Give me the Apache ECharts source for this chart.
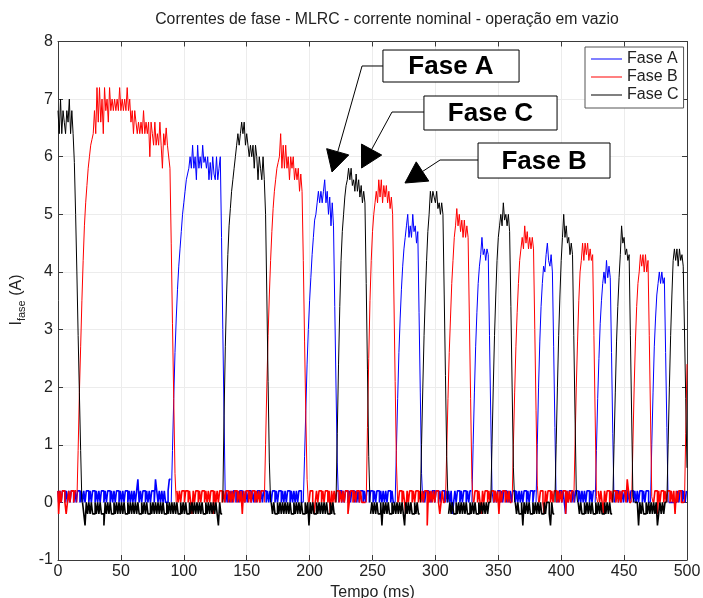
<!DOCTYPE html>
<html>
<head>
<meta charset="utf-8">
<title>Correntes de fase</title>
<script src="https://cdn.jsdelivr.net/npm/echarts@6/dist/echarts.min.js"></script>
<style>
html,body{margin:0;padding:0;background:#ffffff;}
#chart{width:703px;height:598px;}
</style>
</head>
<body>
<div id="chart"></div>
<script>
// ================= DATA =================
const titleText = 'Correntes de fase - MLRC - corrente nominal - operação em vazio';
const seriesNames = ['Fase A', 'Fase B', 'Fase C'];
const xAxisName = 'Tempo (ms)';
const xTickValues = [0, 50, 100, 150, 200, 250, 300, 350, 400, 450, 500];
const yTickValues = [-1, 0, 1, 2, 3, 4, 5, 6, 7, 8];

// Phase A (blue): conduction pulses, 1 ms samples starting at pulseStartA[i]
const pulseStartA = [90, 195, 268, 329, 380, 427, 471];
const pulseValuesA = [
  [0, 0.9, 1.8, 2.6, 3.2, 3.7, 4.1, 4.4, 4.7, 5.0, 5.2, 5.4, 5.6, 5.7, 5.8,
   6.0, 5.8, 6.2, 5.8, 6.0, 5.6, 6.2, 5.8, 6.0, 5.8, 6.2, 5.9, 6.0, 5.8, 6.0,
   5.6, 5.9, 5.6, 6.0, 5.7, 5.6, 6.0, 5.6, 5.8, 6.0, 4.6, 3.0, 1.5, 0],
  [0, 0.8, 1.6, 2.4, 3.0, 3.5, 3.9, 4.3, 4.6, 4.9, 5.0, 5.2, 5.4, 5.2, 5.4,
   5.2, 5.4, 5.6, 5.2, 5.4, 5.0, 5.3, 4.8, 5.2, 4.8, 3.4, 2.0, 0.7, 0],
  [0, 0.9, 1.8, 2.6, 3.2, 3.7, 4.1, 4.4, 4.6, 4.8, 5.0, 4.6, 4.8, 4.6, 5.0,
   4.7, 4.8, 4.5, 4.7, 3.3, 1.9, 0.5, 0],
  [0, 1.0, 1.9, 2.7, 3.3, 3.8, 4.1, 4.3, 4.6, 4.3, 4.4, 4.2, 4.4, 4.3, 2.9,
   1.5, 0.2, 0],
  [0, 1.0, 2.0, 2.8, 3.4, 3.8, 4.1, 4.0, 4.3, 4.5, 4.2, 4.1, 4.3, 4.0, 2.7,
   1.3, 0],
  [0, 0.9, 1.8, 2.5, 3.1, 3.5, 3.8, 4.0, 3.8, 4.2, 3.9, 4.1, 3.9, 2.6, 1.2, 0],
  [0, 1.0, 1.9, 2.7, 3.2, 3.6, 3.8, 4.0, 3.8, 4.0, 3.8, 3.9, 2.6, 1.3, 0]
];
// off-state ripple of phase A, one character per ms (0..500): 0=0, 1=0.2, 2=0.4, a=-0.2, b=-0.4
const noiseA = [
  '1010110101 0110101101 0101101011 0101011010 1101010110',
  '1010110101 0101201011 0101011021 0101010012 0000000000',
  '0000000000 0000000000 0000000000 0101101010 1101011010',
  '1011010101 1010110101 0110101101 0101101010 1011010110',
  '0000000000 0000000000 0010110101 1010110101 0110101101',
  '1010110101 0101101000 0000000000 0000000000 0101101011',
  '0110101101 0101a01011 0101101010 0000000000 0000001010',
  '1101011010 1011010101 0110101101 0000000000 0000000101',
  '1010a10110 1011010101 0110101000 0000000000 0010110101',
  '0110101101 0101101011 0000000000 0000000000 0001011010',
  '1'
];

// Phase B (red)
const pulseStartB = [15, 164, 245, 308, 361, 410, 456, 498];
const pulseValuesB = [
  [0, 0.9, 1.9, 2.7, 3.5, 4.2, 4.8, 5.2, 5.5, 5.8, 6.0, 6.2, 6.3, 6.4,
   6.8, 6.4, 7.2, 6.6, 7.2, 6.6, 7.0, 6.4, 7.2, 6.8,
   7.0, 6.6, 7.2, 6.8, 7.0, 6.8, 7.0, 6.8, 7.0, 6.8,
   7.2, 6.8, 7.0, 6.8, 7.0, 6.8, 7.2, 6.8, 7.0, 6.6,
   6.8, 6.4, 6.8, 6.6, 6.4, 6.6, 6.4, 6.6, 6.4, 6.8,
   6.4, 6.6, 6.4, 6.6, 6.0, 6.6, 6.4, 6.2, 6.6, 6.2,
   6.4, 6.2, 6.6, 6.2, 5.8, 6.4, 6.2, 6.5, 6.2, 6.2,
   5.8, 4.5, 3.1, 1.8, 0.5, 0],
  [0, 1.0, 2.0, 2.9, 3.6, 4.2, 4.7, 5.1, 5.4, 5.6, 5.8, 5.9, 6.0, 6.4, 5.8,
   6.2, 5.8, 6.2, 5.8, 6.0, 5.6, 6.0, 5.8, 6.0, 5.6, 5.8, 5.6, 5.8, 5.4, 5.7,
   5.4, 4.2, 2.8, 1.5, 0.4, 0],
  [0, 1.3, 2.5, 3.5, 4.2, 4.7, 5.0, 5.2, 5.4, 5.2, 5.6, 5.3, 5.6, 5.2, 5.5,
   5.3, 5.5, 5.2, 5.4, 5.1, 5.3, 5.0, 3.6, 2.1, 0.7, 0],
  [0, 0.9, 1.8, 2.6, 3.2, 3.8, 4.2, 4.6, 4.8, 5.1, 4.8, 5.0, 4.7, 4.9, 4.6,
   4.9, 4.6, 4.8, 4.6, 3.2, 1.8, 0.4, 0],
  [0, 1.0, 1.9, 2.7, 3.3, 3.8, 4.2, 4.4, 4.6, 4.4, 4.8, 4.5, 4.7, 4.4, 4.6,
   4.4, 4.6, 4.4, 3.0, 1.6, 0.3, 0],
  [0, 1.0, 2.0, 2.8, 3.5, 4.0, 4.2, 4.5, 4.2, 4.5, 4.3, 4.5, 4.2, 4.4, 4.2,
   4.3, 2.9, 1.5, 0.1, 0],
  [0, 1.0, 2.0, 2.8, 3.4, 3.8, 4.0, 4.3, 4.1, 4.3, 4.0, 4.3, 4.0, 4.2, 2.9,
   1.5, 0.1, 0],
  [0, 1.2, 2.4]
];
const noiseB = [
  '1a10110a01 0110100000 0000000000 0000000000 0000000000',
  '0000000000 0000000000 0000000000 0000000000 0000110101',
  '1011010a10 1101011010 1011a10101 1010110101 0110101a10',
  '1101011010 1011000000 0000000000 0000000000 0000000001',
  '0110a01011 0101101a10 1011010101 1a01101011 0100000000',
  '0000000000 0000000000 1011010a10 1101011010 1011b10101',
  '0110a01000 0000000000 0000000000 1011010a10 1101011010',
  '1a10110101 0000000000 0000000000 0010110a10 1101011010',
  '1011a10101 0000000000 0000000001 1010a10110 1011010101',
  '1102100000 0000000000 0001011a10 1101011010 1a10110000',
  '0'
];

// Phase C (black)
const pulseStartC = [0, 131, 221, 288, 344, 395, 441, 484];
const pulseValuesC = [
  [6.8, 6.4, 7.0, 6.4, 6.8, 6.6, 6.4, 6.8, 6.6, 7.0, 6.4, 6.8, 6.4, 5.9, 5.0,
   4.0, 2.9, 1.9, 0.9, 0],
  [0, 1.5, 2.7, 3.6, 4.3, 4.8, 5.1, 5.4, 5.6, 5.8, 6.0, 6.2, 6.4, 6.2, 6.4,
   6.6, 6.4, 6.6, 6.2, 6.4, 6.2, 6.0, 6.2, 6.0, 6.2, 5.8, 6.2, 6.0, 5.6, 6.0,
   5.8, 5.6, 6.0, 5.6, 5.0, 3.6, 2.1, 0.7, 0],
  [0, 1.2, 2.4, 3.4, 4.2, 4.7, 5.0, 5.3, 5.5, 5.6, 5.8, 5.6, 5.8, 5.5, 5.6,
   5.4, 5.7, 5.4, 5.6, 5.3, 5.5, 5.2, 5.4, 5.2, 3.8, 2.3, 0.8, 0],
  [0, 1.0, 2.0, 2.9, 3.6, 4.2, 4.7, 5.0, 5.4, 5.2, 5.4, 5.3, 5.2, 5.4, 5.1,
   5.2, 5.0, 5.2, 5.0, 3.6, 2.2, 0.8, 0],
  [0, 1.0, 2.0, 2.9, 3.6, 4.2, 4.6, 4.8, 5.0, 4.8, 5.2, 4.9, 5.0, 4.8, 5.0,
   4.7, 3.4, 2.0, 0.6, 0],
  [0, 1.0, 2.0, 2.9, 3.6, 4.2, 4.6, 5.0, 4.6, 4.8, 4.5, 4.6, 4.3, 4.5, 4.3,
   2.9, 1.5, 0.2, 0],
  [0, 1.0, 1.9, 2.8, 3.4, 3.9, 4.3, 4.8, 4.5, 4.6, 4.3, 4.4, 4.2, 4.3, 2.9,
   1.5, 0.1, 0],
  [0, 1.0, 2.0, 2.9, 3.6, 4.2, 4.4, 4.2, 4.4, 4.1, 4.4, 4.2, 4.3, 4.1, 3.0,
   1.8, 0.6]
];
const noiseC = [
  '0000000000 000000000a 0ab0a0a0aa 0a0a0aab0a 0a0aa0a0a0',
  'a0a0aa0a0a 0a0a0aa0a0 a0aa0a0a0a 0a0a0aa0a0 a0a0a0aa0a',
  '0a0aa0a0a0 a0a0a0aa0a 0a0a0a0ab0 a000000000 0000000000',
  '0000000000 000000000a 0a0aa0a0a0 a0a0a0aa0a 0a0a0aa0a0',
  'b0a0aa0a0a 0a0a0aa0a0 a000000000 0000000000 000000000a',
  '0a0a0aa0b0 a0a0aa0a0a 0a0a0ab0a0 a0aa0a0a00 0000000000',
  '0000000000 0a0a0aa0a0 a0a0a0aa0a 0a0aa0a0a0 a0a0000000',
  '0000000000 000a0a0aa0 b0a0a0aa0a 0a0a0aa0a0 0ab0a00000',
  '0000000000 000a0a0aa0 a0a0a0aa0a 0a0aa0a0a0 a000000000',
  '0000000000 00b0a0aa0a 0a0a0a0ba0 a0a0a00000 0000000000',
  '0'
];

// ================= BUILD =================
const rippleLevel = {'0': 0, '1': 0.2, '2': 0.4, 'a': -0.2, 'b': -0.4};
function pulseRanges(starts, values) {
  return starts.map((s, i) => [s, s + values[i].length - 1]);
}
function buildPulses(starts, values) {
  const pts = [];
  starts.forEach((s, i) => {
    values[i].forEach((v, j) => pts.push([s + j, v]));
    pts.push([s + values[i].length - 0.5, null]); // break between pulses
  });
  return pts;
}
function buildRipple(starts, values, noiseRows) {
  const ranges = pulseRanges(starts, values);
  const codes = noiseRows.join('').replace(/\s+/g, '');
  const pts = [];
  for (let t = 0; t < codes.length && t <= 500; t++) {
    const inside = ranges.some(r => t >= r[0] && t <= r[1]);
    pts.push([t, inside ? null : rippleLevel[codes[t]]]);
  }
  return pts;
}
const phaseDefs = [
  [pulseStartA, pulseValuesA, noiseA],
  [pulseStartB, pulseValuesB, noiseB],
  [pulseStartC, pulseValuesC, noiseC]
];

const FONT = '"Liberation Sans", Arial, Helvetica, sans-serif';
const colors = ['#0000ff', '#ff0000', '#000000'];
const frameColor = '#3a3a3a';
const labelColor = '#222222';

const chart = echarts.init(document.getElementById('chart'), null, {renderer: 'canvas', width: 703, height: 598});

function makeXAxis(pos, main) {
  return {
    type: 'value', position: pos,
    min: xTickValues[0], max: xTickValues[xTickValues.length - 1],
    interval: xTickValues[1] - xTickValues[0],
    axisLine: {show: true, onZero: false, lineStyle: {color: frameColor, width: 1}},
    axisTick: {show: true, inside: true, length: 5, lineStyle: {color: frameColor}},
    axisLabel: {show: main, fontFamily: FONT, fontSize: 16, color: labelColor, margin: 4},
    splitLine: {show: main, lineStyle: {color: '#ececec', width: 1}},
    name: main ? xAxisName : '', nameLocation: 'middle', nameGap: 22,
    nameTextStyle: {fontFamily: FONT, fontSize: 16, color: labelColor}
  };
}
function makeYAxis(pos, main) {
  return {
    type: 'value', position: pos,
    min: yTickValues[0], max: yTickValues[yTickValues.length - 1],
    interval: yTickValues[1] - yTickValues[0],
    axisLine: {show: true, onZero: false, lineStyle: {color: frameColor, width: 1}},
    axisTick: {show: true, inside: true, length: 5, lineStyle: {color: frameColor}},
    axisLabel: {show: main, fontFamily: FONT, fontSize: 16, color: labelColor, margin: 5},
    splitLine: {show: main, lineStyle: {color: '#ececec', width: 1}}
  };
}

const series = [];
phaseDefs.forEach((def, i) => {
  series.push({
    name: seriesNames[i], type: 'line', data: buildPulses(def[0], def[1]),
    xAxisIndex: 0, yAxisIndex: 0, symbol: 'none', showSymbol: false, smooth: false,
    connectNulls: false,
    lineStyle: {width: 1, color: colors[i]}, itemStyle: {color: colors[i]},
    emphasis: {disabled: true}, silent: true, z: 2 + 2 * i
  });
  series.push({
    name: seriesNames[i], type: 'line', data: buildRipple(def[0], def[1], def[2]),
    xAxisIndex: 0, yAxisIndex: 0, symbol: 'none', showSymbol: false, step: 'middle',
    connectNulls: false,
    lineStyle: {width: 1.6, color: colors[i]}, itemStyle: {color: colors[i]},
    emphasis: {disabled: true}, silent: true, z: 3 + 2 * i
  });
});

const option = {
  animation: false,
  backgroundColor: '#ffffff',
  title: {
    text: titleText, left: 382, top: 7, textAlign: 'center',
    textStyle: {fontFamily: FONT, fontSize: 15.8, fontWeight: 'normal', color: labelColor}
  },
  legend: {
    data: seriesNames, orient: 'vertical', left: 585, top: 47,
    icon: 'rect', itemWidth: 31, itemHeight: 1, itemGap: 2,
    padding: [4, 5, 5, 6], backgroundColor: '#ffffff',
    borderColor: '#555555', borderWidth: 1, borderRadius: 0,
    selectedMode: false,
    textStyle: {fontFamily: FONT, fontSize: 16, color: labelColor}
  },
  grid: {left: 58, right: 16, top: 41.5, bottom: 38, containLabel: false, outerBoundsMode: 'none'},
  xAxis: [makeXAxis('bottom', true), makeXAxis('top', false)],
  yAxis: [makeYAxis('left', true), makeYAxis('right', false)],
  series: series
};
chart.setOption(option);

// ----- y-axis label with subscript -----
const measureCtx = document.createElement('canvas').getContext('2d');
function textWidth(t, size) { measureCtx.font = size + 'px ' + FONT; return measureCtx.measureText(t).width; }
const mainSize = 16, subSize = 11;
const wI = textWidth('I', mainSize), wF = textWidth('fase', subSize), wA = textWidth(' (A)', mainSize);
const x0 = -(wI + wF + wA) / 2;
const yLabelGroup = {
  type: 'group', x: 17, y: 300, rotation: Math.PI / 2,
  children: [
    {type: 'text', x: x0, y: 0, style: {text: 'I', font: mainSize + 'px ' + FONT, fill: labelColor, textAlign: 'left', textVerticalAlign: 'middle', align: 'left', verticalAlign: 'middle'}},
    {type: 'text', x: x0 + wI, y: 5, style: {text: 'fase', font: subSize + 'px ' + FONT, fill: labelColor, textAlign: 'left', textVerticalAlign: 'middle', align: 'left', verticalAlign: 'middle'}},
    {type: 'text', x: x0 + wI + wF, y: 0, style: {text: ' (A)', font: mainSize + 'px ' + FONT, fill: labelColor, textAlign: 'left', textVerticalAlign: 'middle', align: 'left', verticalAlign: 'middle'}}
  ]
};

// ----- callout annotations (anchored in data coordinates) -----
const callouts = [
  {label: 'Fase A', box: [258.3, 7.852, 366.5, 7.297], from: [258.3, 7.575], elbow: [241.7, 7.575], tip: [217.8, 5.735]},
  {label: 'Fase C', box: [290.9, 7.054, 396.7, 6.464], from: [290.9, 6.776], elbow: [265.5, 6.776], tip: [241.3, 5.804]},
  {label: 'Fase B', box: [333.9, 6.238, 438.8, 5.630], from: [333.9, 5.943], elbow: [303.7, 5.943], tip: [275.8, 5.544]}
];
const toPx = p => chart.convertToPixel({xAxisIndex: 0, yAxisIndex: 0}, p);
const graphics = [yLabelGroup];
callouts.forEach(c => {
  const p1 = toPx([c.box[0], c.box[1]]), p2 = toPx([c.box[2], c.box[3]]);
  const f = toPx(c.from), e = toPx(c.elbow), t = toPx(c.tip);
  let dx = t[0] - e[0], dy = t[1] - e[1];
  const len = Math.sqrt(dx * dx + dy * dy); dx /= len; dy /= len;
  const headLen = 21, headHalf = 11.5;
  const b = [t[0] - dx * headLen, t[1] - dy * headLen];
  const nx = -dy, ny = dx;
  graphics.push({type: 'polyline', z: 100, shape: {points: [f, e, b]}, style: {stroke: '#000', lineWidth: 1, fill: null}});
  graphics.push({type: 'polygon', z: 100, shape: {points: [t, [b[0] + nx * headHalf, b[1] + ny * headHalf], [b[0] - nx * headHalf, b[1] - ny * headHalf]]}, style: {fill: '#000', stroke: '#000', lineWidth: 1}});
  graphics.push({type: 'rect', z: 100, shape: {x: p1[0], y: p1[1], width: p2[0] - p1[0], height: p2[1] - p1[1]}, style: {fill: '#fff', stroke: '#000', lineWidth: 1}});
  graphics.push({type: 'text', z: 101, x: (p1[0] + p2[0]) / 2, y: (p1[1] + p2[1]) / 2 + 1,
    style: {text: c.label, font: 'bold 26px ' + FONT, fill: '#000', textAlign: 'center', textVerticalAlign: 'middle', align: 'center', verticalAlign: 'middle'}});
});
chart.setOption({graphic: graphics});
</script>
</body>
</html>
